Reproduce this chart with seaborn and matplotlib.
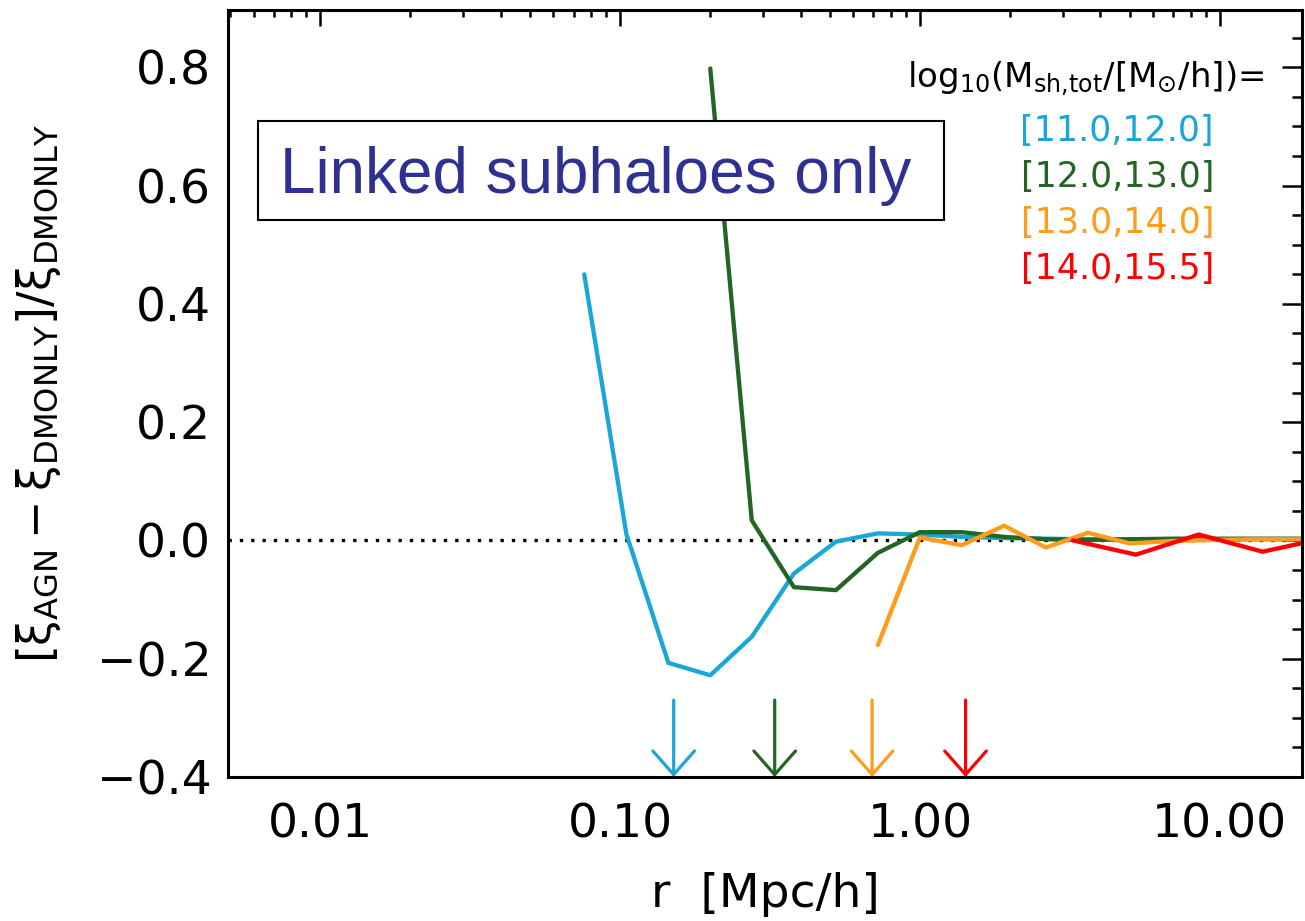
import numpy as np
import pandas as pd
import matplotlib
matplotlib.use("Agg")
import matplotlib.pyplot as plt
from matplotlib.patches import Rectangle
import seaborn as sns

# ---------------- data ----------------
r_bins = [0.076, 0.105, 0.145, 0.200, 0.275, 0.380, 0.525, 0.724, 1.00, 1.38,
          1.91, 2.63, 3.63, 5.01, 6.92, 9.55, 13.2, 18.2, 25.1]
xi_11_12 = [0.450, 0.011, -0.207, -0.228, -0.163, -0.056, -0.002, 0.012, 0.010,
            0.006, 0.004, 0.003, 0.002, 0.002, 0.002, 0.002, 0.002, 0.002, 0.002]
r_12_13 = r_bins[3:]
xi_12_13 = [0.798, 0.034, -0.079, -0.084, -0.021, 0.014, 0.014, 0.006, 0.002,
            0.001, 0.002, 0.003, 0.003, 0.003, 0.003, 0.003]
r_13_14 = r_bins[7:]
xi_13_14 = [-0.177, 0.005, -0.008, 0.025, -0.012, 0.013, -0.005, -0.001, 0.001,
            0.002, 0.002, 0.002]
r_14_155 = [3.24, 5.25, 8.51, 13.9, 22.5]
xi_14_155 = [0.000, -0.024, 0.010, -0.019, 0.004]

mass_bins = ["[11.0,12.0]", "[12.0,13.0]", "[13.0,14.0]", "[14.0,15.5]"]
colors = ["#1AA6D6", "#236623", "#FF9C1E", "#FF0000"]
arrow_r = [0.151, 0.328, 0.693, 1.42]

x_ticks = [0.01, 0.1, 1.0, 10.0]
x_ticklabels = ["0.01", "0.10", "1.00", "10.00"]
y_ticks = [-0.4, -0.2, 0.0, 0.2, 0.4, 0.6, 0.8]
y_ticklabels = ["\u22120.4", "\u22120.2", "0.0", "0.2", "0.4", "0.6", "0.8"]

frames = []
for lab, rr, yy in zip(mass_bins, [r_bins, r_12_13, r_13_14, r_14_155],
                       [xi_11_12, xi_12_13, xi_13_14, xi_14_155]):
    frames.append(pd.DataFrame({"r": rr, "xi": yy, "bin": lab}))
df = pd.concat(frames, ignore_index=True)

# ---------------- style ----------------
sns.set_style("white")
plt.rcParams["font.family"] = ["DejaVu Sans"]
plt.rcParams["mathtext.default"] = "regular"
plt.rcParams["text.color"] = "black"
plt.rcParams["axes.labelcolor"] = "black"
plt.rcParams["xtick.color"] = "black"
plt.rcParams["ytick.color"] = "black"

W, H = 1305, 921
fig = plt.figure(figsize=(W / 100, H / 100), dpi=100)
L, R, T, B = 228, 1302, 10, 777
ax = fig.add_axes([L / W, 1 - B / H, (R - L) / W, (B - T) / H])

palette = dict(zip(mass_bins, colors))
for lab in mass_bins:
    sns.lineplot(data=df[df["bin"] == lab], x="r", y="xi", color=palette[lab],
                 lw=3.1, sort=False, estimator=None, ax=ax, legend=False,
                 zorder=3)

ax.set_xscale("log")
ax.set_xlim(0.00493, 18.8)
ax.set_ylim(-0.4, 0.897)

ax.axhline(0.0, color="black", lw=2.4, ls=(0, (1, 2.4)), zorder=1)

for rr, c in zip(arrow_r, colors):
    ax.annotate("", xy=(rr, -0.4), xytext=(rr, -0.27),
                arrowprops=dict(arrowstyle="->,head_length=0.85,head_width=0.75",
                                color=c, lw=2.3, shrinkA=0, shrinkB=0,
                                mutation_scale=20), zorder=4)

ax.set_xticks(x_ticks)
ax.set_xticklabels(x_ticklabels)
ax.set_yticks(y_ticks)
ax.set_yticklabels(y_ticklabels)
ax.yaxis.set_minor_locator(matplotlib.ticker.MultipleLocator(0.05))
ax.xaxis.set_minor_locator(matplotlib.ticker.LogLocator(base=10, subs=np.arange(2, 10)))
ax.xaxis.set_minor_formatter(matplotlib.ticker.NullFormatter())

ax.tick_params(axis="both", which="both", direction="in", top=True, right=True,
               colors="black", width=1.8)
ax.tick_params(axis="y", which="major", length=14.5, labelsize=34, pad=12)
ax.tick_params(axis="y", which="minor", length=7)
ax.tick_params(axis="x", which="major", length=11.5, labelsize=34, pad=18)
ax.tick_params(axis="x", which="minor", length=5)
for s in ax.spines.values():
    s.set_linewidth(2.2)
    s.set_color("black")
    s.set_zorder(6)

ax.set_xlabel("r  [Mpc/h]", fontsize=34, labelpad=18, color="black")
ax.set_ylabel(r"$[\xi_{AGN}-\xi_{DMONLY}]/\xi_{DMONLY}$", fontsize=33,
              labelpad=24, color="black")

# label box
ax.add_patch(Rectangle((0.0279, 0.7262), 0.6388, 0.1291, transform=ax.transAxes,
                       fc="white", ec="black", lw=1.5, zorder=5))
ax.text(0.0484, 0.7614, "Linked subhaloes only", transform=ax.transAxes,
        fontsize=46, color="#2E3192", family="Liberation Sans", ha="left",
        va="baseline", zorder=6)

ax.text(0.965, 0.911, r"log$_{10}$(M$_{sh{,}tot}$/[M$_{\odot}$/h])=",
        transform=ax.transAxes, fontsize=24.5, color="black", ha="right",
        va="center", zorder=6)
for i, (lab, c) in enumerate(zip(mass_bins, colors)):
    ax.text(0.918, 0.842 - i * 0.0597, lab, transform=ax.transAxes, fontsize=25,
            color=c, ha="right", va="center", zorder=6)

fig.savefig("out.png", dpi=100)
